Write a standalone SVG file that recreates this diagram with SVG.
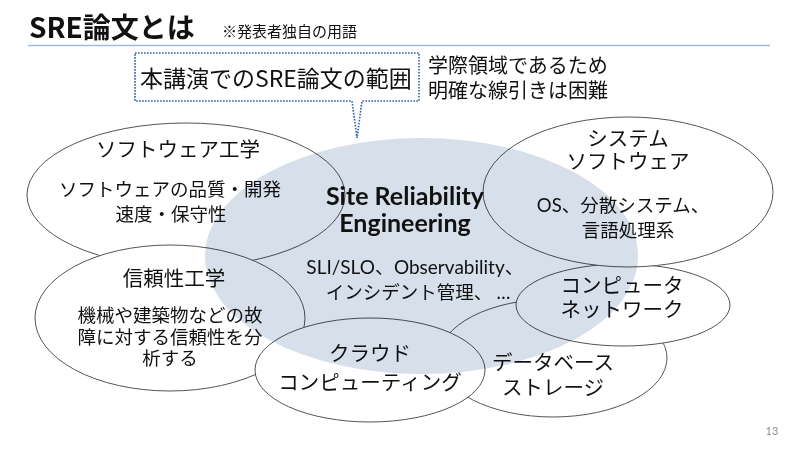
<svg xmlns="http://www.w3.org/2000/svg" width="800" height="450" viewBox="0 0 800 450">
<style>
.t{font-family:"Noto Sans CJK JP","Noto Sans",sans-serif;fill:#111}
.lat{font-family:Lato,"Noto Sans CJK JP",sans-serif;fill:#111}
.c{text-anchor:middle}
.h{font-size:20.5px}
.d{font-size:18.5px}
.node{fill:#fff;stroke:#555;stroke-width:1}
.sre{fill:#d6dfea;mix-blend-mode:multiply}
.callout{fill:#fff;stroke:#2f5da8;stroke-width:1.6;stroke-dasharray:1.6 1.4}
</style>
<rect width="800" height="450" fill="#fff"/>
<g id="title">
<text class="t" x="29" y="38" font-size="28" font-weight="bold">SRE論文とは</text>
<text class="t" x="222" y="37" font-size="15">※発表者独自の用語</text>
<line x1="28" y1="45.5" x2="770" y2="45.5" stroke="#9dbbe3" stroke-width="1.5"/>
</g>
<g id="connectors"></g>
<g id="node-software-eng">
<ellipse class="node" cx="186" cy="195" rx="159" ry="72"/>
<text class="t c h" x="178" y="157">ソフトウェア工学</text>
<text class="t c d" x="170" y="196">ソフトウェアの品質・開発<tspan x="171" y="221">速度・保守性</tspan></text>
</g>
<g id="node-reliability-eng">
<ellipse class="node" cx="170" cy="318" rx="135" ry="73"/>
<text class="t c h" x="174" y="286">信頼性工学</text>
<text class="t c d" x="170" y="322">機械や建築物などの故<tspan x="170" y="344">障に対する信頼性を分</tspan><tspan x="170" y="365">析する</tspan></text>
</g>
<g id="node-database">
<ellipse class="node" cx="553" cy="358" rx="114" ry="59"/>
<text class="t c h" x="553" y="370">データベース<tspan x="553" y="395">ストレージ</tspan></text>
</g>
<g id="node-cloud">
<ellipse class="node" cx="370" cy="370" rx="115" ry="52"/>
<text class="t c h" x="370" y="361">クラウド<tspan x="370" y="390">コンピューティング</tspan></text>
</g>
<g id="node-network">
<ellipse class="node" cx="623" cy="305" rx="107" ry="41"/>
<text class="t c h" x="622" y="293">コンピュータ<tspan x="622" y="317">ネットワーク</tspan></text>
</g>
<g id="node-system-software">
<ellipse class="node" cx="628" cy="192" rx="145" ry="75"/>
<text class="t c h" x="628" y="146">システム<tspan x="628" y="169">ソフトウェア</tspan></text>
<text class="lat c d" x="623" y="212">OS、分散システム、<tspan class="t" x="628" y="237">言語処理系</tspan></text>
</g>
<g id="node-sre">
<ellipse class="sre" cx="421.5" cy="256" rx="216.5" ry="118"/>
<text class="lat c" x="405" y="205" font-size="25" font-weight="bold">Site Reliability<tspan x="405" y="232">Engineering</tspan></text>
<text class="lat c" x="415" y="274" font-size="19">SLI/SLO、Observability、<tspan class="t" x="418" y="299" font-size="18.5">インシデント管理、 <tspan font-family="Lato,sans-serif">…</tspan></tspan></text>
</g>
<g id="callout-scope">
<path class="callout" d="M135,53 H419 V101 H362 L357,138 L352,101 H135 Z"/>
<text class="t" x="140" y="87" font-size="23">本講演でのSRE論文の範囲</text>
</g>
<g id="note-interdisciplinary">
<text class="t" x="428" y="73" font-size="20">学際領域であるため<tspan x="428" y="98">明確な線引きは困難</tspan></text>
</g>
<g id="page-number">
<text x="772" y="435" font-family="Lato,sans-serif" font-size="11" fill="#8c8c8c" text-anchor="middle">13</text>
</g>
</svg>
